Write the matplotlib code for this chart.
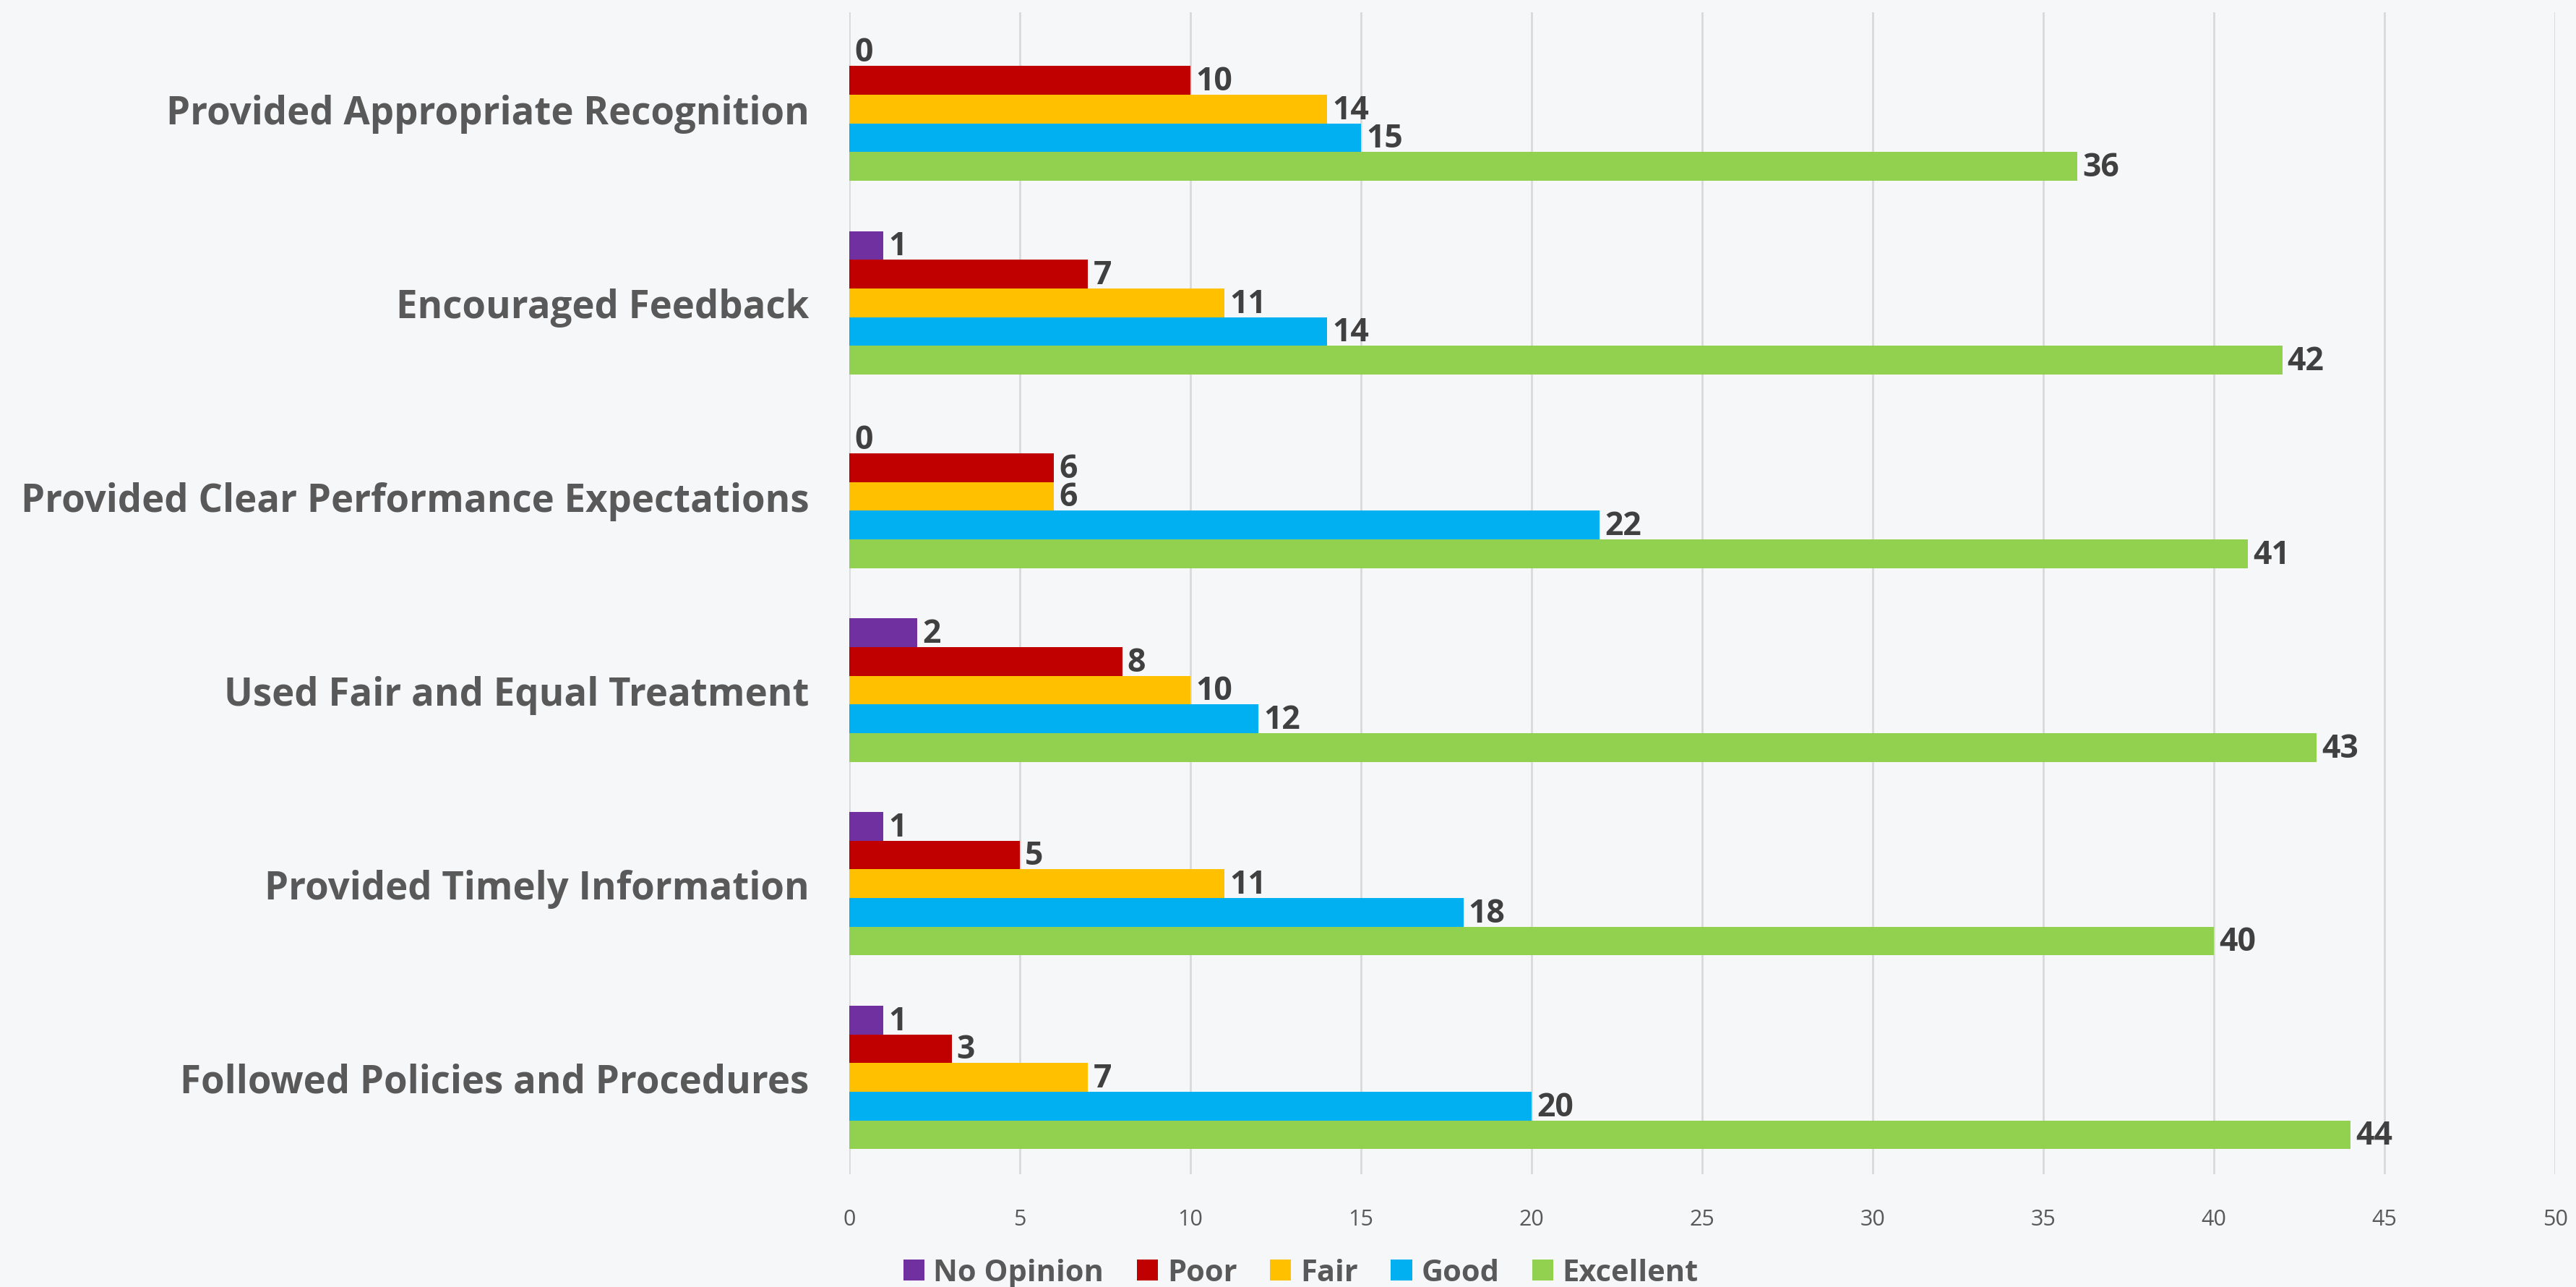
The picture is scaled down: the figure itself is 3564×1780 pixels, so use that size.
import numpy as np
import matplotlib.pyplot as plt
from matplotlib.patches import Patch

categories = ['Provided Appropriate Recognition', 'Encouraged Feedback',
              'Provided Clear Performance Expectations', 'Used Fair and Equal Treatment',
              'Provided Timely Information', 'Followed Policies and Procedures']
series = ['No Opinion', 'Poor', 'Fair', 'Good', 'Excellent']
no_opinion = [0, 1, 0, 2, 1, 1]
poor = [10, 7, 6, 8, 5, 3]
fair = [14, 11, 6, 10, 11, 7]
good = [15, 14, 22, 12, 18, 20]
excellent = [36, 42, 41, 43, 40, 44]
colors = ['#7030A0', '#C00000', '#FFC000', '#00B0F0', '#92D050']
xticks = list(range(0, 51, 5))

font = ['Open Sans', 'DejaVu Sans']
bg = '#F6F7F9'

fig = plt.figure(figsize=(35.64, 17.81), dpi=100, facecolor=bg)
ax = fig.add_axes([0.3297, 0.0876, 0.6622, 0.9023], facecolor=bg)

values = [no_opinion, poor, fair, good, excellent]
n = len(categories)
y = np.arange(n)[::-1]  # first category on top
h = 0.148
for i, (vals, c) in enumerate(zip(values, colors)):
    ypos = y + (2 - i) * h
    ax.barh(ypos, vals, height=h, color=c, zorder=3)
    for yy, v in zip(ypos, vals):
        ax.text(v + 0.15, yy - 0.005, str(v), va='center', ha='left',
                fontsize=32, fontweight='bold', color='#404040', family=font, zorder=4)

ax.set_xlim(0, 50)
ax.set_ylim(-0.5, n - 0.5)
ax.set_xticks(xticks)
ax.set_xticklabels([str(t) for t in xticks], fontsize=22, color='#595959', family=font)
ax.set_yticks(y)
ax.set_yticklabels(categories, fontsize=38, fontweight='bold', color='#595959', family=font)
ax.tick_params(axis='both', length=0)
ax.tick_params(axis='x', pad=34)
ax.tick_params(axis='y', pad=40)
ax.grid(axis='x', color='#D9D9D9', linewidth=2, zorder=0)
for s in ax.spines.values():
    s.set_visible(False)

handles = [Patch(facecolor=c, label=s) for s, c in zip(series, colors)]
fig.legend(handles=handles, loc='center', bbox_to_anchor=(0.505, 0.011), ncol=5,
           frameon=False, handlelength=0.7, handleheight=0.7, handletextpad=0.3,
           columnspacing=1.1, prop={'family': font, 'size': 30, 'weight': 'bold'},
           labelcolor='#595959')

fig.savefig('out.png', dpi=100, facecolor=bg)
